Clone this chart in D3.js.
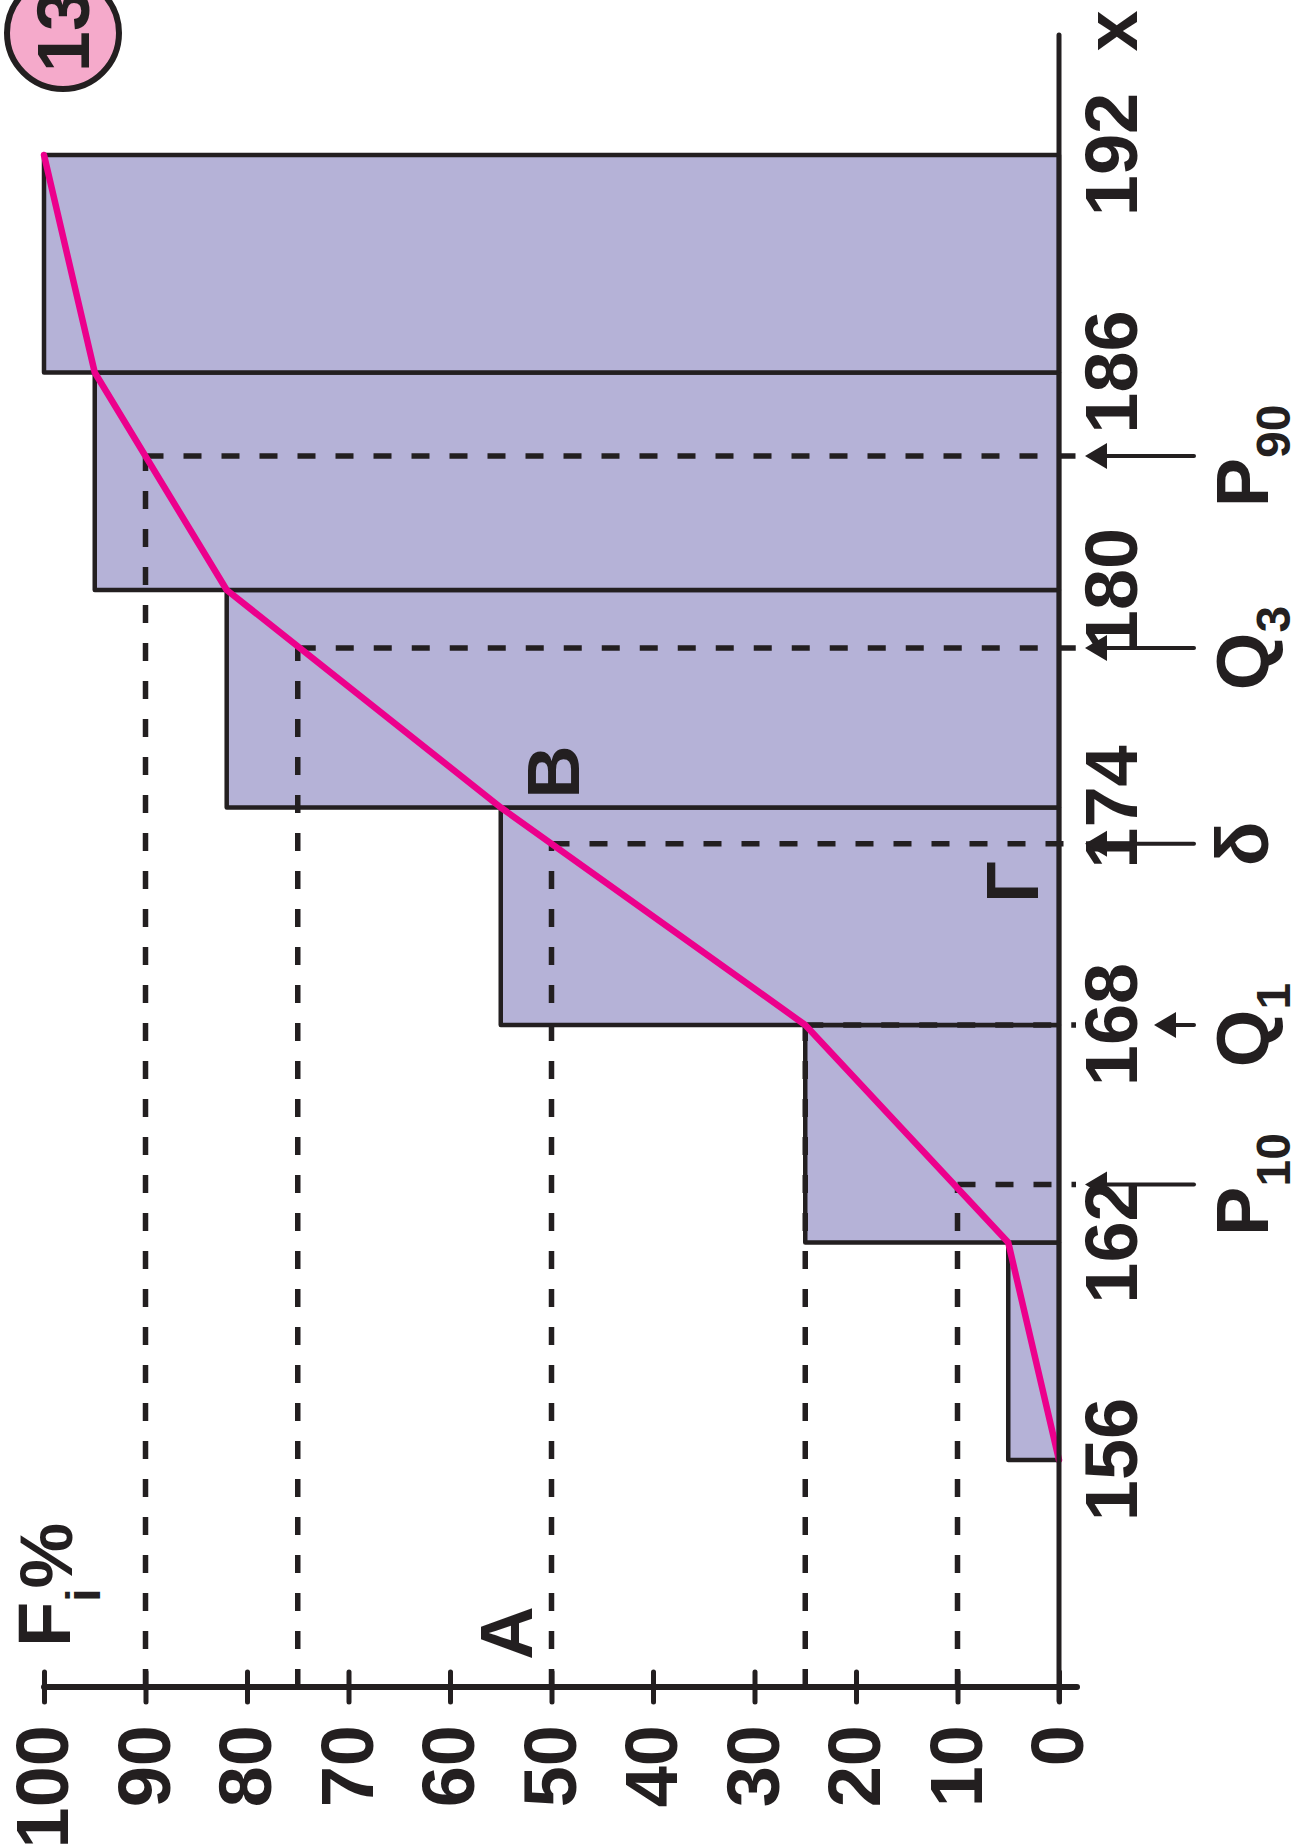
<!DOCTYPE html>
<html>
<head>
<meta charset="utf-8">
<script src="https://cdn.jsdelivr.net/npm/d3@7/dist/d3.min.js"></script>
<style>
  body { margin: 0; background: #fff; }
  text { font-family: "Liberation Sans", Arial, sans-serif; font-weight: bold; fill: #231f20; }
</style>
</head>
<body>
<svg id="chart"></svg>
<script>
// class limits (x) and cumulative relative frequency F_i %
let bounds = [156, 162, 168, 174, 180, 186, 192]
let cumPercent = [5, 25, 55, 82, 95, 100]
let ogivePercent = [0, 5, 25, 55, 82, 95, 100]

let xTicks = [156, 162, 168, 174, 180, 186, 192]
let yTicks = [0, 10, 20, 30, 40, 50, 60, 70, 80, 90, 100]

// percentiles read on the ogive
let qNames = ['P', 'Q', 'δ', 'Q', 'P']
let qSubs = ['10', '1', '', '3', '90']
let qPercent = [10, 25, 50, 75, 90]
let qValue = [163.6, 168, 173, 178.4, 183.7]

let W = 1309, H = 1845
let ink = '#231f20'

let svg = d3.select('#chart')
    .attr('width', W)
    .attr('height', H)

// the whole figure is drawn upright and then turned a quarter turn
let g = svg.append('g')
    .attr('transform', 'translate(0,' + H + ') rotate(-90)')

let x = d3.scaleLinear().domain([156, 192]).range([385, 1690])
let y = d3.scaleLinear().domain([0, 100]).range([1059, 44])
let axisX = 158

// bars
let bars = bounds.slice(0, -1).map((b, i) => ({ from: b, to: bounds[i + 1], value: cumPercent[i] }))

g.selectAll('.bar')
    .data(bars)
    .enter()
    .append('rect')
    .attr('class', 'bar')
    .attr('x', d => x(d.from))
    .attr('width', d => x(d.to) - x(d.from))
    .attr('y', d => y(d.value))
    .attr('height', d => y(0) - y(d.value))
    .attr('fill', '#b5b2d7')
    .attr('stroke', ink)
    .attr('stroke-width', 4.5)
    .attr('stroke-linejoin', 'round')

// dashed guide lines
let quant = qValue.map((v, i) => ({ v: v, p: qPercent[i], name: qNames[i], sub: qSubs[i] }))

g.selectAll('.hguide')
    .data(quant)
    .enter()
    .append('line')
    .attr('x1', axisX).attr('x2', d => x(d.v))
    .attr('y1', d => y(d.p)).attr('y2', d => y(d.p))
    .attr('stroke', ink).attr('stroke-width', 5.5)
    .attr('stroke-dasharray', '18,20')

g.selectAll('.vguide')
    .data(quant)
    .enter()
    .append('line')
    .attr('x1', d => x(d.v)).attr('x2', d => x(d.v))
    .attr('y1', d => y(d.p)).attr('y2', y(0) + 17)
    .attr('stroke', ink).attr('stroke-width', 5.5)
    .attr('stroke-dasharray', '18,20')

// ogive
let line = d3.line()
    .x((d, i) => x(bounds[i]))
    .y(d => y(d))

g.append('path')
    .datum(ogivePercent)
    .attr('d', line)
    .attr('fill', 'none')
    .attr('stroke', '#ec008c')
    .attr('stroke-width', 6.5)
    .attr('stroke-linejoin', 'round')
    .attr('stroke-linecap', 'round')

// x axis (heights)
g.append('line')
    .attr('x1', axisX - 14).attr('x2', x(192) + 120)
    .attr('y1', y(0)).attr('y2', y(0))
    .attr('stroke', ink).attr('stroke-width', 5)
    .attr('stroke-linecap', 'round')

let xAxis = g.append('g')
    .attr('transform', 'translate(0,' + y(0) + ')')
    .call(d3.axisBottom(x).tickValues(xTicks).tickSize(0).tickPadding(25).tickFormat(d3.format('d')))
xAxis.select('.domain').remove()
xAxis.attr('font-size', 74).attr('font-family', null).attr('color', ink)

g.append('text')
    .attr('x', 1814)
    .attr('y', 1137)
    .attr('text-anchor', 'middle')
    .attr('font-size', 74)
    .text('x')

// y axis (F_i %)
g.append('line')
    .attr('x1', axisX).attr('x2', axisX)
    .attr('y1', y(100)).attr('y2', y(0) + 18)
    .attr('stroke', ink).attr('stroke-width', 6)
    .attr('stroke-linecap', 'round')

let yAxis = g.append('g')
    .attr('transform', 'translate(' + axisX + ',0)')
    .call(d3.axisLeft(y).tickValues(yTicks).tickSize(15).tickPadding(23))
yAxis.select('.domain').remove()
yAxis.selectAll('.tick line')
    .attr('x1', 15)
    .attr('stroke', ink)
    .attr('stroke-width', 5)
    .attr('stroke-linecap', 'round')
yAxis.attr('font-size', 74).attr('font-family', null).attr('color', ink)

let fLabel = g.append('text')
    .attr('x', 198)
    .attr('y', 70)
    .attr('font-size', 74)
fLabel.append('tspan').text('F')
fLabel.append('tspan').attr('font-size', 48).attr('dy', 30).text('i')
fLabel.append('tspan').attr('dy', -28).text('%')

// arrows and names of the percentiles
let arrowTail = y(0) + 135
let tipOf = d => d.name == 'Q' && d.sub == '1' ? arrowTail - 40 : y(0) + 26

g.selectAll('.arrow')
    .data(quant)
    .enter()
    .append('line')
    .attr('x1', d => x(d.v)).attr('x2', d => x(d.v))
    .attr('y1', arrowTail)
    .attr('y2', d => tipOf(d) + 12)
    .attr('stroke', ink).attr('stroke-width', 4)
    .attr('stroke-linecap', 'round')

g.selectAll('.head')
    .data(quant)
    .enter()
    .append('path')
    .attr('d', d => {
      let cx = x(d.v)
      let tip = tipOf(d)
      return 'M' + cx + ',' + tip + 'L' + (cx - 13) + ',' + (tip + 22) + 'L' + (cx + 13) + ',' + (tip + 22) + 'Z'
    })
    .attr('fill', ink)

let qLabel = g.selectAll('.qlabel')
    .data(quant)
    .enter()
    .append('text')
    .attr('x', d => x(d.v))
    .attr('y', 1268)
    .attr('text-anchor', 'middle')
    .attr('font-size', 74)
qLabel.append('tspan').text(d => d.name)
qLabel.append('tspan').attr('font-size', 48).attr('dy', 22).text(d => d.sub)

// point letters
let letters = [
  { t: 'A', x: 212, y: 532 },
  { t: 'B', x: 1073, y: 579 },
  { t: 'Г', x: 963, y: 1038 }
]
g.selectAll('.letter')
    .data(letters)
    .enter()
    .append('text')
    .attr('x', d => d.x)
    .attr('y', d => d.y)
    .attr('text-anchor', 'middle')
    .attr('font-size', 74)
    .text(d => d.t)

// figure number
g.append('circle')
    .attr('cx', 1812).attr('cy', 63).attr('r', 56)
    .attr('fill', '#f5aacb')
    .attr('stroke', ink)
    .attr('stroke-width', 6)
g.append('text')
    .attr('x', 1814).attr('y', 89)
    .attr('text-anchor', 'middle')
    .attr('font-size', 74)
    .text('13')
</script>
</body>
</html>
